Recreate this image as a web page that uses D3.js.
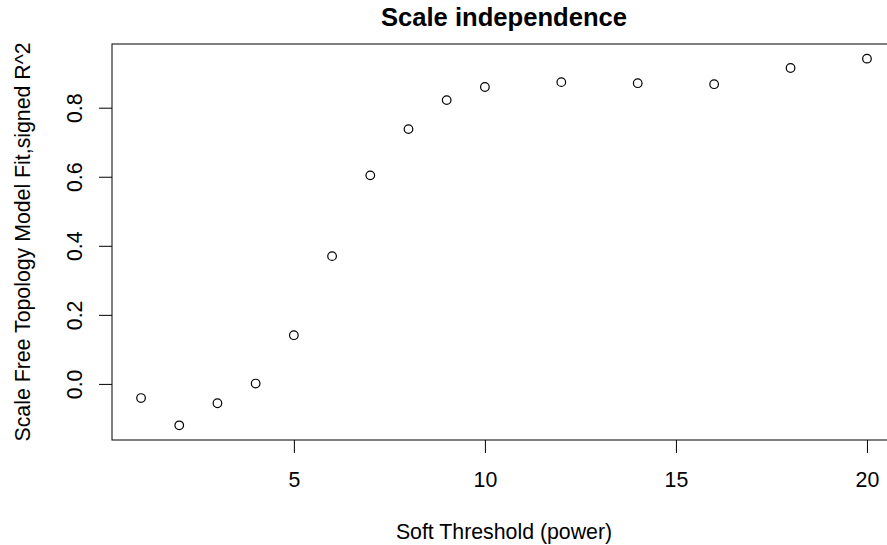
<!DOCTYPE html>
<html>
  <head>
    <title>Scale independence</title>
    <script src="https://d3js.org/d3.v7.min.js"></script>
    <style>
      body { margin: 0; background: #fff; }
      text { font-family: "Liberation Sans", Arial, sans-serif; fill: #000; }
    </style>
  </head>
  <body>
    <svg width="887" height="545"></svg>
    <script>
      // soft-thresholding powers and their signed scale-free fit R^2
      const powers = [1, 2, 3, 4, 5, 6, 7, 8, 9, 10, 12, 14, 16, 18, 20];
      const fitR2 = [-0.041, -0.120, -0.056, 0.001, 0.141, 0.370, 0.604, 0.738,
                     0.822, 0.860, 0.874, 0.871, 0.868, 0.915, 0.942];
      const xTicks = [5, 10, 15, 20];
      const yTicks = [0, 0.2, 0.4, 0.6, 0.8];

      const svg = d3.select("svg");
      const margin = {left: 112, right: -9, top: 44, bottom: 105};
      const width = +svg.attr("width");
      const height = +svg.attr("height");
      const x0 = margin.left, x1 = width - margin.right;
      const y0 = margin.top, y1 = height - margin.bottom;

      // R style axis ranges: data extent padded by 4% each side
      const pad = ([a, b]) => [a - 0.04 * (b - a), b + 0.04 * (b - a)];
      const xScale = d3.scaleLinear().domain(pad(d3.extent(powers))).range([x0, x1]);
      const yScale = d3.scaleLinear().domain(pad(d3.extent(fitR2))).range([y1, y0]);

      const fs = 21.3;

      const xAxis = svg.append("g")
        .attr("transform", `translate(0,${y1})`)
        .call(d3.axisBottom(xScale).tickValues(xTicks).tickSize(13).tickFormat(d3.format("d")));
      xAxis.select(".domain").remove();
      xAxis.selectAll("line").attr("stroke", "#000");
      xAxis.selectAll("text")
        .attr("y", 47).attr("dy", 0)
        .style("font-size", fs + "px");

      const yAxis = svg.append("g")
        .attr("transform", `translate(${x0},0)`)
        .call(d3.axisLeft(yScale).tickValues(yTicks).tickSize(13).tickFormat(d3.format(".1f")));
      yAxis.select(".domain").remove();
      yAxis.selectAll("line").attr("stroke", "#000");
      yAxis.selectAll("text")
        .attr("x", 0).attr("dy", 0)
        .attr("transform", "translate(-30,0) rotate(-90)")
        .attr("text-anchor", "middle")
        .style("font-size", fs + "px");

      // plot box
      svg.append("rect")
        .attr("x", x0).attr("y", y0)
        .attr("width", x1 - x0).attr("height", y1 - y0)
        .attr("fill", "none").attr("stroke", "#000").attr("stroke-width", 1);

      svg.selectAll("circle.pt")
        .data(powers)
        .enter().append("circle")
          .attr("class", "pt")
          .attr("cx", d => xScale(d))
          .attr("cy", (d, i) => yScale(fitR2[i]))
          .attr("r", 4.3)
          .attr("fill", "none")
          .attr("stroke", "#000")
          .attr("stroke-width", 1.2);

      svg.append("text")
        .attr("x", (x0 + x1) / 2).attr("y", 26)
        .attr("text-anchor", "middle")
        .style("font-size", "25.6px").style("font-weight", "bold")
        .text("Scale independence");

      svg.append("text")
        .attr("x", (x0 + x1) / 2).attr("y", 539)
        .attr("text-anchor", "middle")
        .style("font-size", fs + "px")
        .text("Soft Threshold (power)");

      svg.append("text")
        .attr("transform", `translate(30,${(y0 + y1) / 2}) rotate(-90)`)
        .attr("text-anchor", "middle")
        .style("font-size", fs + "px")
        .text("Scale Free Topology Model Fit,signed R^2");
    </script>
  </body>
</html>
